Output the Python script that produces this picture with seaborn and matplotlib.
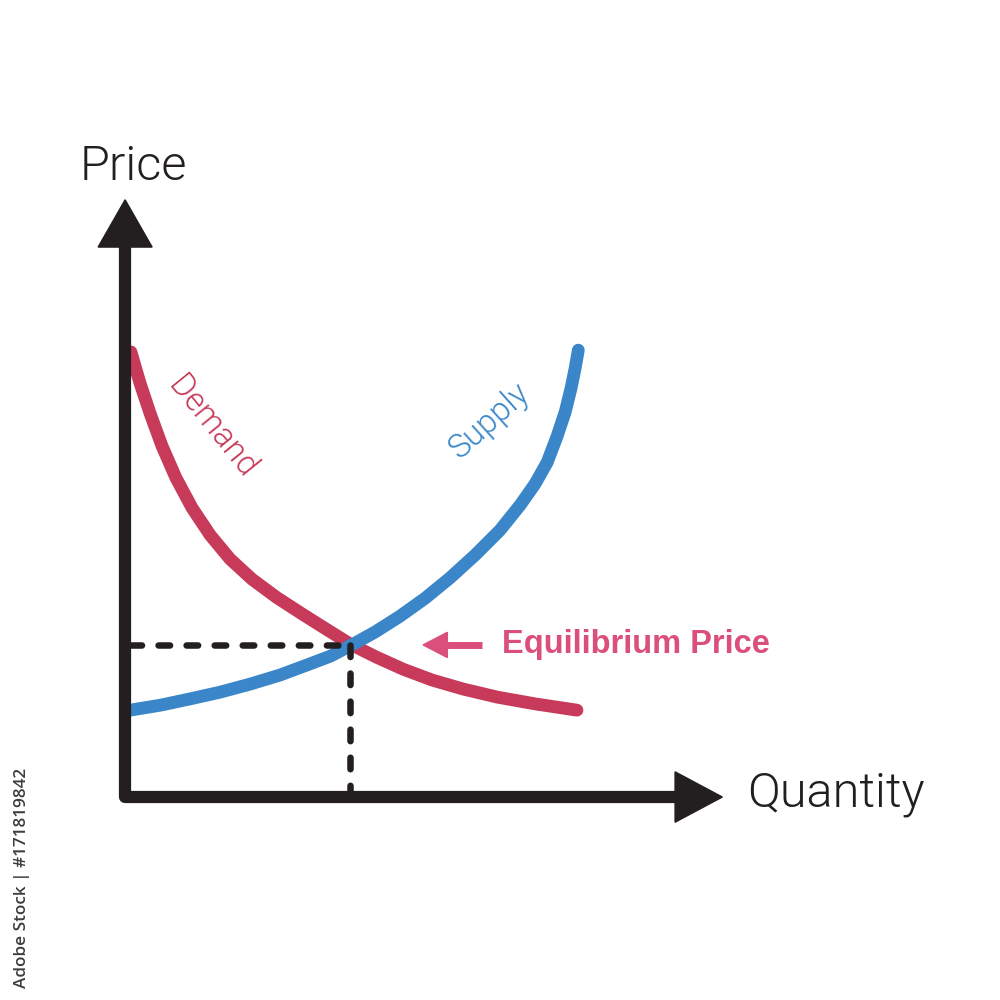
import matplotlib
matplotlib.use("Agg")
import matplotlib.pyplot as plt
import seaborn as sns
from matplotlib.patches import Polygon

# ── Data (quantity / price, arbitrary units) ──────────────────────────────────
demand_q = [0.13, 0.33, 0.56, 0.82, 1.13, 1.49, 1.89, 2.33, 2.82, 3.36,
            3.93, 4.47, 5.00, 5.58, 6.18, 6.82, 7.51, 8.27, 9.11, 10.04]
demand_p = [9.89, 9.20, 8.51, 7.80, 7.09, 6.42, 5.82, 5.29, 4.84, 4.44,
            4.07, 3.73, 3.40, 3.11, 2.84, 2.60, 2.40, 2.22, 2.07, 1.93]

supply_q = [0.11, 0.78, 1.44, 2.11, 2.78, 3.44, 4.11, 4.56, 5.00, 5.56,
            6.11, 6.67, 7.22, 7.78, 8.33, 8.78, 9.11, 9.38, 9.60, 9.78,
            9.91, 10.00, 10.07]
supply_p = [1.93, 2.04, 2.18, 2.33, 2.51, 2.71, 2.96, 3.13, 3.36, 3.67,
            4.02, 4.42, 4.87, 5.38, 5.93, 6.49, 6.96, 7.44, 8.02, 8.56,
            9.09, 9.53, 9.93]

eq_q = 5.00
eq_p = 3.37

DEMAND_COLOR = "#C73A5A"
SUPPLY_COLOR = "#3A86C8"
EQ_COLOR = "#DB4F7B"
AXIS_COLOR = "#231F20"

sns.set_theme(style="white")
plt.rcParams["lines.scale_dashes"] = False

fig = plt.figure(figsize=(10, 10), dpi=100)
ax = fig.add_axes([0, 0, 1, 1])
ax.set_xlim(-2.78, 19.44)
ax.set_ylim(-4.51, 17.71)
ax.set_axis_off()

# ── Curves ────────────────────────────────────────────────────────────────────
sns.lineplot(x=demand_q, y=demand_p, color=DEMAND_COLOR, linewidth=9.2,
             solid_capstyle="round", solid_joinstyle="round", ax=ax, zorder=3)
sns.lineplot(x=supply_q, y=supply_p, color=SUPPLY_COLOR, linewidth=9.2,
             solid_capstyle="round", solid_joinstyle="round", ax=ax, zorder=4)

# ── Equilibrium guides ────────────────────────────────────────────────────────
dash = (0, (8.3, 11.9))
ax.plot([0.1, eq_q], [eq_p, eq_p], color=AXIS_COLOR, lw=4.7, ls=dash,
        dash_capstyle="round", zorder=5)
ax.plot([eq_q, eq_q], [eq_p, 0.1], color=AXIS_COLOR, lw=4.7, ls=dash,
        dash_capstyle="round", zorder=5)

# ── Axes with arrowheads ──────────────────────────────────────────────────────
ax.plot([0, 0, 12.25], [12.25, 0, 0], color=AXIS_COLOR, lw=8.8,
        solid_joinstyle="round", solid_capstyle="butt", zorder=6)
ax.add_patch(Polygon([(-0.6, 12.22), (0.6, 12.22), (0, 13.27)],
                     closed=True, color=AXIS_COLOR, zorder=6))
ax.add_patch(Polygon([(12.22, -0.56), (12.22, 0.56), (13.27, 0)],
                     closed=True, color=AXIS_COLOR, zorder=6))

light = dict(family=["Roboto", "DejaVu Sans"], weight=300)
ax.text(-1.0, 13.71, "Price", fontsize=35, color=AXIS_COLOR,
        ha="left", va="baseline", **light)
ax.text(13.82, -0.22, "Quantity", fontsize=35, color=AXIS_COLOR,
        ha="left", va="baseline", **light)

ax.text(1.92, 8.22, "Demand", fontsize=23.5, color=DEMAND_COLOR, rotation=-51,
        ha="center", va="center", rotation_mode="anchor", **light)
ax.text(8.10, 8.35, "Supply", fontsize=23.5, color=SUPPLY_COLOR, rotation=42,
        ha="center", va="center", rotation_mode="anchor", **light)

# ── Equilibrium label ─────────────────────────────────────────────────────────
ax.plot([7.1, 7.93], [3.38, 3.38], color=EQ_COLOR, lw=5, solid_capstyle="butt",
        zorder=5)
ax.add_patch(Polygon([(7.16, 3.10), (7.16, 3.66), (6.62, 3.38)],
                     closed=True, color=EQ_COLOR, zorder=5))
ax.text(8.38, 3.20, "Equilibrium Price", fontsize=23.5, color=EQ_COLOR,
        fontweight="bold", family=["Liberation Sans", "DejaVu Sans"],
        ha="left", va="baseline")

# side credit
ax.text(-2.29, -1.80, "Adobe Stock | #171819842", fontsize=12.3,
        color="#3c3c3c", rotation=90, ha="center", va="center",
        family=["Open Sans", "DejaVu Sans"], weight=600)

fig.savefig("out.png", dpi=100, facecolor="white")
plt.close(fig)
